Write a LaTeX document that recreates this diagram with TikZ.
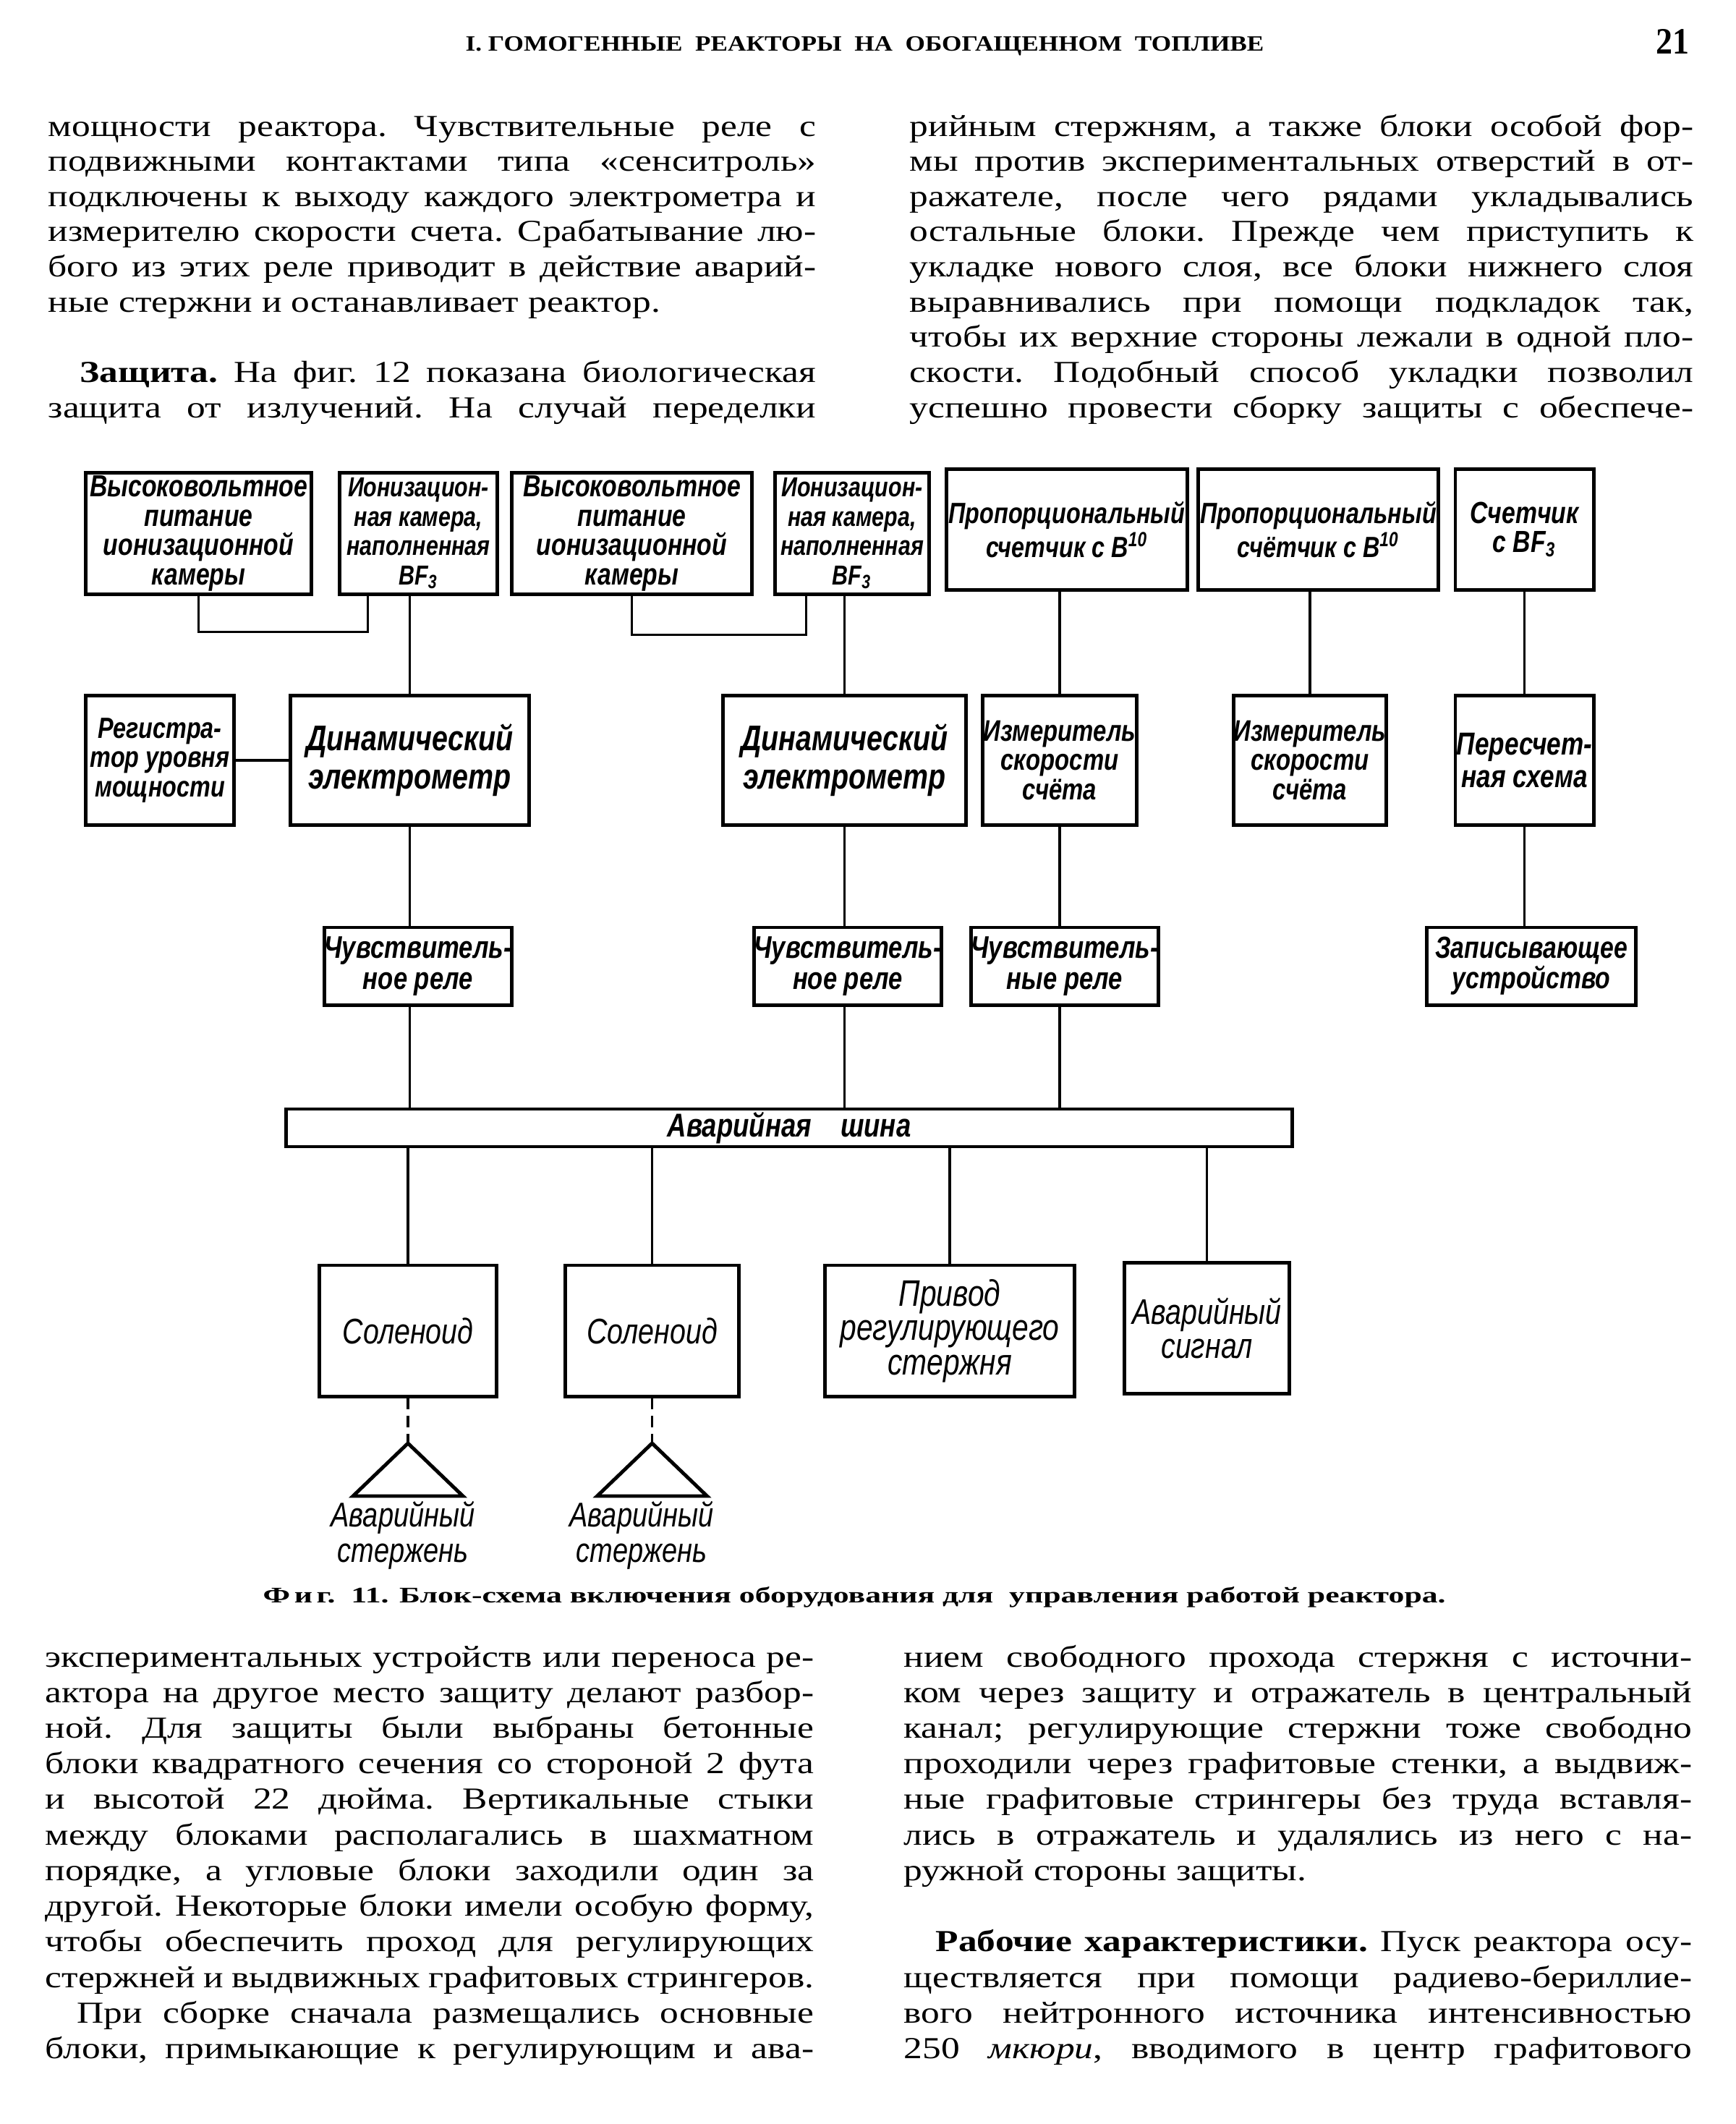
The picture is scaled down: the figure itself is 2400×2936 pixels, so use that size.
\documentclass[tikz,border=0pt]{standalone}
\usepackage{fontspec}
\usepackage{graphicx}
\usetikzlibrary{calc}
\newfontfamily\bodyfont[FakeStretch=1.22]{Liberation Serif}
\newfontfamily\capfont[FakeStretch=1.3]{Liberation Serif}
\newfontfamily\lblfont[FakeStretch=0.8]{Liberation Sans}
\newlength\colw
% one printed line, spread to the column width
\newcommand\fullln[1]{\hbox to \colw{\spaceskip=0.3em plus 1fil minus 0.2em\relax #1}}
\newcommand\lastln[1]{\hbox{#1}}
\newcommand\indln{\hspace*{0.44cm}}

\begin{document}
\begin{tikzpicture}[
    x=0.01cm, y=-0.01cm,
    box/.style={draw, line width=1.4pt, align=center, inner sep=0pt},
    sz/.style 2 args={minimum width=#1, minimum height=#2},
    bl/.style 2 args={font=\lblfont\bfseries\itshape\fontsize{#1}{#2}\selectfont},
    rl/.style 2 args={font=\lblfont\itshape\fontsize{#1}{#2}\selectfont},
    wire/.style={line width=0.9pt},
    rodtri/.style={line width=1.4pt, line join=miter},
    txt/.style={inner sep=0pt, anchor=base west, font=\bodyfont\frenchspacing\fontsize{12}{13.83}\selectfont},
    hdr/.style={inner sep=0pt, anchor=base west}
]
\useasboundingbox (0,0) rectangle (2400,2936);

% page head
\node[hdr] (head) at (643,70) {\resizebox{11.03cm}{0.2cm}{\capfont\bfseries I.\ ГОМОГЕННЫЕ\ \ РЕАКТОРЫ\ \ НА\ \ ОБОГАЩЕННОМ\ \ ТОПЛИВЕ}};
\node[hdr] (pnum) at (2289,74) {\resizebox{0.46cm}{0.34cm}{\capfont\bfseries 21}};

% text above the figure
\node[txt] (topL) at (66,188) {\setlength\colw{10.61cm}\vtop{
    \fullln{мощности реактора. Чувствительные реле с}
    \fullln{подвижными контактами типа «сенситроль»}
    \fullln{подключены к выходу каждого электрометра и}
    \fullln{измерителю скорости счета. Срабатывание лю-}
    \fullln{бого из этих реле приводит в действие аварий-}
    \lastln{ные стержни и останавливает реактор.}
    \lastln{}
    \fullln{\indln\textbf{Защита.} На фиг. 12 показана биологическая}
    \fullln{защита от излучений. На случай переделки}}};
\node[txt] (topR) at (1257,188) {\setlength\colw{10.83cm}\vtop{
    \fullln{рийным стержням, а также блоки особой фор-}
    \fullln{мы против экспериментальных отверстий в от-}
    \fullln{ражателе, после чего рядами укладывались}
    \fullln{остальные блоки. Прежде чем приступить к}
    \fullln{укладке нового слоя, все блоки нижнего слоя}
    \fullln{выравнивались при помощи подкладок так,}
    \fullln{чтобы их верхние стороны лежали в одной пло-}
    \fullln{скости. Подобный способ укладки позволил}
    \fullln{успешно провести сборку защиты с обеспече-}}};

% row 1: detectors and supplies
\node[box, sz={3.11cm}{1.67cm}, bl={12}{11.5}] (hv1) at (274.5,737.5) {Высоковольтное\\питание\\ионизационной\\камеры};
\node[box, sz={2.17cm}{1.67cm}, bl={10.8}{11.5}] (ic1) at (578.5,737.5) {Ионизацион-\\ная камера,\\наполненная\\BF\textsubscript{3}};
\node[box, sz={3.31cm}{1.67cm}, bl={12}{11.5}] (hv2) at (873.5,737.5) {Высоковольтное\\питание\\ионизационной\\камеры};
\node[box, sz={2.12cm}{1.67cm}, bl={10.8}{11.5}] (ic2) at (1178,737.5) {Ионизацион-\\ная камера,\\наполненная\\BF\textsubscript{3}};
\node[box, sz={3.32cm}{1.67cm}, bl={11.5}{11.5}] (pc1) at (1475,732) {Пропорциональный\\счетчик с B\textsuperscript{10}};
\node[box, sz={3.31cm}{1.67cm}, bl={11.5}{11.5}] (pc2) at (1822.5,732) {Пропорциональный\\счётчик с B\textsuperscript{10}};
\node[box, sz={1.91cm}{1.67cm}, bl={12}{11.5}] (bf) at (2107.5,732) {Счетчик\\с BF\textsubscript{3}};

% row 2
\node[box, sz={2.04cm}{1.78cm}, bl={11.5}{11.5}] (reg) at (221,1051) {Регистра-\\тор уровня\\мощности};
\node[box, sz={3.29cm}{1.78cm}, bl={14}{15}] (de1) at (566.5,1051) {Динамический\\электрометр};
\node[box, sz={3.35cm}{1.78cm}, bl={14}{15}] (de2) at (1167.5,1051) {Динамический\\электрометр};
\node[box, sz={2.12cm}{1.78cm}, bl={11.7}{11.5}] (rm1) at (1465,1051) {Измеритель\\скорости\\счёта};
\node[box, sz={2.10cm}{1.78cm}, bl={11.7}{11.5}] (rm2) at (1811,1051) {Измеритель\\скорости\\счёта};
\node[box, sz={1.91cm}{1.78cm}, bl={12.5}{13}] (cnt) at (2107.5,1051) {Пересчет-\\ная схема};

% row 3
\node[box, sz={2.52cm}{1.07cm}, bl={12.3}{12}] (sr1) at (578,1335.5) {Чувствитель-\\ное реле};
\node[box, sz={2.52cm}{1.07cm}, bl={12.3}{12}] (sr2) at (1172,1335.5) {Чувствитель-\\ное реле};
\node[box, sz={2.56cm}{1.07cm}, bl={12.3}{12}] (sr3) at (1472,1335.5) {Чувствитель-\\ные реле};
\node[box, sz={2.88cm}{1.07cm}, bl={12}{12}] (rec) at (2117,1335.5) {Записывающее\\устройство};

% scram bus
\node[box, sz={13.9cm}{0.52cm}, bl={13}{13}] (bus) at (1091,1559) {Аварийная\hspace{0.4cm}шина};

% row 4
\node[box, sz={2.44cm}{1.81cm}, rl={14}{13.5}] (sol1) at (564,1839.5) {Соленоид};
\node[box, sz={2.39cm}{1.81cm}, rl={14}{13.5}] (sol2) at (901.5,1839.5) {Соленоид};
\node[box, sz={3.44cm}{1.81cm}, rl={14.5}{13.5}] (drv) at (1313,1839.5) {Привод\\регулирующего\\стержня};
\node[box, sz={2.27cm}{1.81cm}, rl={14}{13.5}] (sig) at (1668.5,1836) {Аварийный\\сигнал};

% links
\draw[wire] (hv1.south) -- ++(0,50) -| ($(ic1.south west)+(41,0)$);
\draw[wire] (hv2.south) -- ++(0,54) -| ($(ic2.south west)+(45,0)$);
\draw[wire] (de1.north) -- (de1.north |- ic1.south);
\draw[wire] (de2.north) -- (de2.north |- ic2.south);
\draw[wire] (rm1.north) -- (rm1.north |- pc1.south);
\draw[wire] (rm2.north) -- (rm2.north |- pc2.south);
\draw[wire] (cnt.north) -- (cnt.north |- bf.south);
\draw[wire] (reg.east) -- (de1.west);
\draw[wire] (de1.south) -- (de1.south |- sr1.north);
\draw[wire] (de2.south) -- (de2.south |- sr2.north);
\draw[wire] (rm1.south) -- (rm1.south |- sr3.north);
\draw[wire] (cnt.south) -- (cnt.south |- rec.north);
\draw[wire] (de1.south |- sr1.south) -- (de1.south |- bus.north);
\draw[wire] (de2.south |- sr2.south) -- (de2.south |- bus.north);
\draw[wire] (rm1.south |- sr3.south) -- (rm1.south |- bus.north);
\foreach \n in {sol1,sol2,drv,sig}
    \draw[wire] (\n.north) -- (\n.north |- bus.south);

% scram rods
\coordinate (tip1) at (564,1995);
\coordinate (tip2) at (901.5,1995);
\draw[wire, dash pattern=on 4.5pt off 2.5pt] (sol1.south) -- (tip1);
\draw[wire, dash pattern=on 4.5pt off 2.5pt] (sol2.south) -- (tip2);
\draw[rodtri] (tip1) -- ++(-76,73) -- ++(152,0) -- cycle;
\draw[rodtri] (tip2) -- ++(-76,73) -- ++(152,0) -- cycle;
\node[rl={13.5}{14}, align=center] (rod1) at (557,2122) {Аварийный\\стержень};
\node[rl={13.5}{14}, align=center] (rod2) at (887,2122) {Аварийный\\стержень};

% caption
\node[hdr] (cap) at (363,2215) {\resizebox{16.34cm}{0.22cm}{\capfont\bfseries Ф\,и\,г.\ \ 11. Блок-схема включения оборудования для\ \ управления работой реактора.}};

% text below the figure
\node[txt, font=\bodyfont\frenchspacing\fontsize{12}{14}\selectfont] (botL) at (62,2304) {\setlength\colw{10.62cm}\vtop{
    \fullln{экспериментальных устройств или переноса ре-}
    \fullln{актора на другое место защиту делают разбор-}
    \fullln{ной. Для защиты были выбраны бетонные}
    \fullln{блоки квадратного сечения со стороной 2 фута}
    \fullln{и высотой 22 дюйма. Вертикальные стыки}
    \fullln{между блоками располагались в шахматном}
    \fullln{порядке, а угловые блоки заходили один за}
    \fullln{другой. Некоторые блоки имели особую форму,}
    \fullln{чтобы обеспечить проход для регулирующих}
    \fullln{стержней и выдвижных графитовых стрингеров.}
    \fullln{\indln При сборке сначала размещались основные}
    \fullln{блоки, примыкающие к регулирующим и ава-}}};
\node[txt, font=\bodyfont\frenchspacing\fontsize{12}{14}\selectfont] (botR) at (1249,2304) {\setlength\colw{10.89cm}\vtop{
    \fullln{нием свободного прохода стержня с источни-}
    \fullln{ком через защиту и отражатель в центральный}
    \fullln{канал; регулирующие стержни тоже свободно}
    \fullln{проходили через графитовые стенки, а выдвиж-}
    \fullln{ные графитовые стрингеры без труда вставля-}
    \fullln{лись в отражатель и удалялись из него с на-}
    \lastln{ружной стороны защиты.}
    \lastln{}
    \fullln{\indln\textbf{Рабочие характеристики.} Пуск реактора осу-}
    \fullln{ществляется при помощи радиево-бериллие-}
    \fullln{вого нейтронного источника интенсивностью}
    \fullln{250 \textit{мкюри}, вводимого в центр графитового}}};
\end{tikzpicture}
\end{document}
